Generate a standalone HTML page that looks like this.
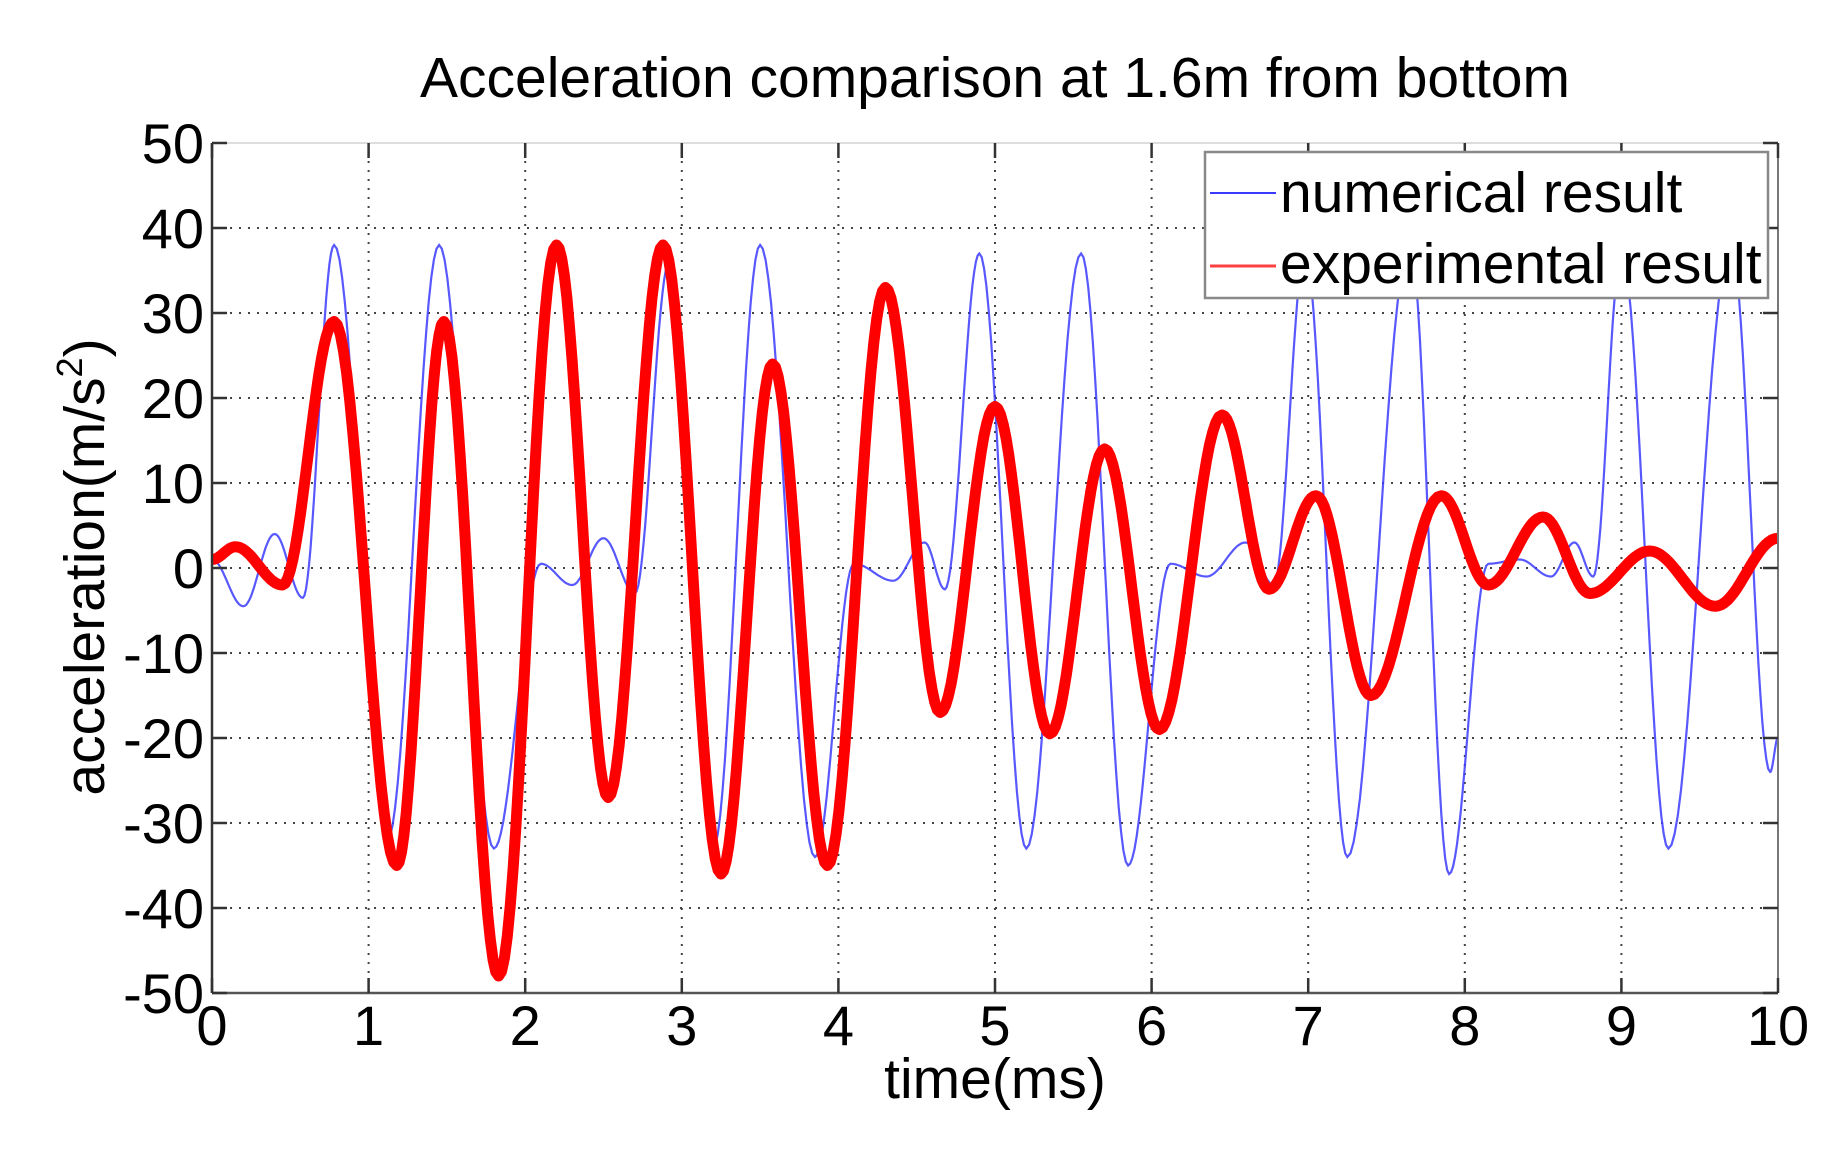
<!DOCTYPE html>
<html><head><meta charset="utf-8"><style>
html,body{margin:0;padding:0;background:#fff;}
svg text{font-family:"Liberation Sans",Arial,sans-serif;fill:#000;}
</style></head><body>
<svg id="s" width="1842" height="1144" viewBox="0 0 1842 1144" xmlns="http://www.w3.org/2000/svg">
<rect width="1842" height="1144" fill="#fff"/>
<g id="grid" stroke="#444" stroke-width="2" stroke-dasharray="2,7"></g>
<path id="blue" fill="none" stroke="#3b3bff" stroke-width="2.2" stroke-opacity="0.85"/>
<path id="red" fill="none" stroke="#ff0000" stroke-width="11" stroke-linejoin="round"/>
<line x1="212" y1="143" x2="1778" y2="143" stroke="#ddd" stroke-width="2"/>
<line x1="212" y1="143" x2="212" y2="993" stroke="#333" stroke-width="2.5"/>
<line x1="212" y1="993" x2="1778" y2="993" stroke="#555" stroke-width="2.5"/>
<line x1="1778" y1="143" x2="1778" y2="993" stroke="#777" stroke-width="2"/>
<g id="ticks" stroke="#333" stroke-width="2.5"></g>
<g id="lbl" font-size="56"></g>
<text x="995" y="97" font-size="57" text-anchor="middle">Acceleration comparison at 1.6m from bottom</text>
<text x="995" y="1098" font-size="57" text-anchor="middle">time(ms)</text>
<text transform="translate(104,567) rotate(-90)" font-size="57" text-anchor="middle">acceleration(m/s<tspan font-size="36" dy="-22">2</tspan><tspan dy="22">)</tspan></text>
<rect x="1205" y="152" width="563" height="146" fill="#fff" stroke="#888" stroke-width="2.5"/>
<line x1="1210" y1="193" x2="1276" y2="193" stroke="#3b3bff" stroke-width="2"/>
<line x1="1210" y1="266" x2="1276" y2="266" stroke="#ff4040" stroke-width="3"/>
<text x="1280" y="212" font-size="57">numerical result</text>
<text x="1280" y="283" font-size="57">experimental result</text>
</svg>
<script>
const X=t=>212+t*156.6, Y=v=>568-v*8.5;
const ns="http://www.w3.org/2000/svg";
function el(p,tag,a,txt){const e=document.createElementNS(ns,tag);for(const k in a)e.setAttribute(k,a[k]);if(txt!==undefined)e.textContent=txt;document.getElementById(p).appendChild(e);}
for(let i=1;i<10;i++){el('grid','line',{x1:X(i),y1:143,x2:X(i),y2:993});}
for(let v=-40;v<=40;v+=10){el('grid','line',{x1:212,y1:Y(v),x2:1778,y2:Y(v)});}
for(let i=0;i<=10;i++){el('ticks','line',{x1:X(i),y1:993,x2:X(i),y2:978});el('ticks','line',{x1:X(i),y1:143,x2:X(i),y2:158});
 el('lbl','text',{x:X(i),y:1045,'text-anchor':'middle'},String(i));}
for(let v=-50;v<=50;v+=10){el('ticks','line',{x1:212,y1:Y(v),x2:227,y2:Y(v)});el('ticks','line',{x1:1778,y1:Y(v),x2:1763,y2:Y(v)});
 el('lbl','text',{x:204,y:Y(v)+20,'text-anchor':'end'},String(v));}
function path(pts){let d='';for(let k=0;k<pts.length-1;k++){const [t0,v0]=pts[k],[t1,v1]=pts[k+1];
 for(let j=0;j<=20;j++){const f=j/20,t=t0+(t1-t0)*f,v=v0+(v1-v0)*(1-Math.cos(Math.PI*f))/2;
 d+=(d?'L':'M')+X(t).toFixed(1)+','+Y(v).toFixed(1);}}return d;}
const red=[[0,1],[0.15,2.5],[0.45,-2],[0.78,29],[1.18,-35],[1.48,29],[1.83,-48],[2.2,38],[2.53,-27],[2.88,38],[3.25,-36],[3.58,24],[3.93,-35],[4.3,33],[4.65,-17],[5.0,19],[5.35,-19.5],[5.7,14],[6.05,-19],[6.45,18],[6.75,-2.5],[7.05,8.5],[7.4,-15],[7.85,8.5],[8.15,-2],[8.5,6],[8.8,-3],[9.18,2],[9.6,-4.5],[10,3.5]];
const blue=[[0,1],[0.2,-4.5],[0.4,4],[0.58,-3.5],[0.78,38],[1.12,-32],[1.45,38],[1.8,-33],[2.1,0.5],[2.3,-2],[2.5,3.5],[2.7,-3],[2.92,36],[3.2,-33],[3.5,38],[3.85,-34],[4.1,0.5],[4.35,-1.5],[4.55,3],[4.68,-2.5],[4.9,37],[5.2,-33],[5.55,37],[5.85,-35],[6.12,0.5],[6.35,-1],[6.6,3],[6.78,-2],[6.98,37],[7.25,-34],[7.65,38],[7.9,-36],[8.15,0.5],[8.35,1],[8.55,-1],[8.7,3],[8.82,-1],[9.0,37],[9.3,-33],[9.7,38],[9.95,-24],[10,-20]];
document.getElementById('red').setAttribute('d',path(red));
document.getElementById('blue').setAttribute('d',path(blue));
</script>
</body></html>
